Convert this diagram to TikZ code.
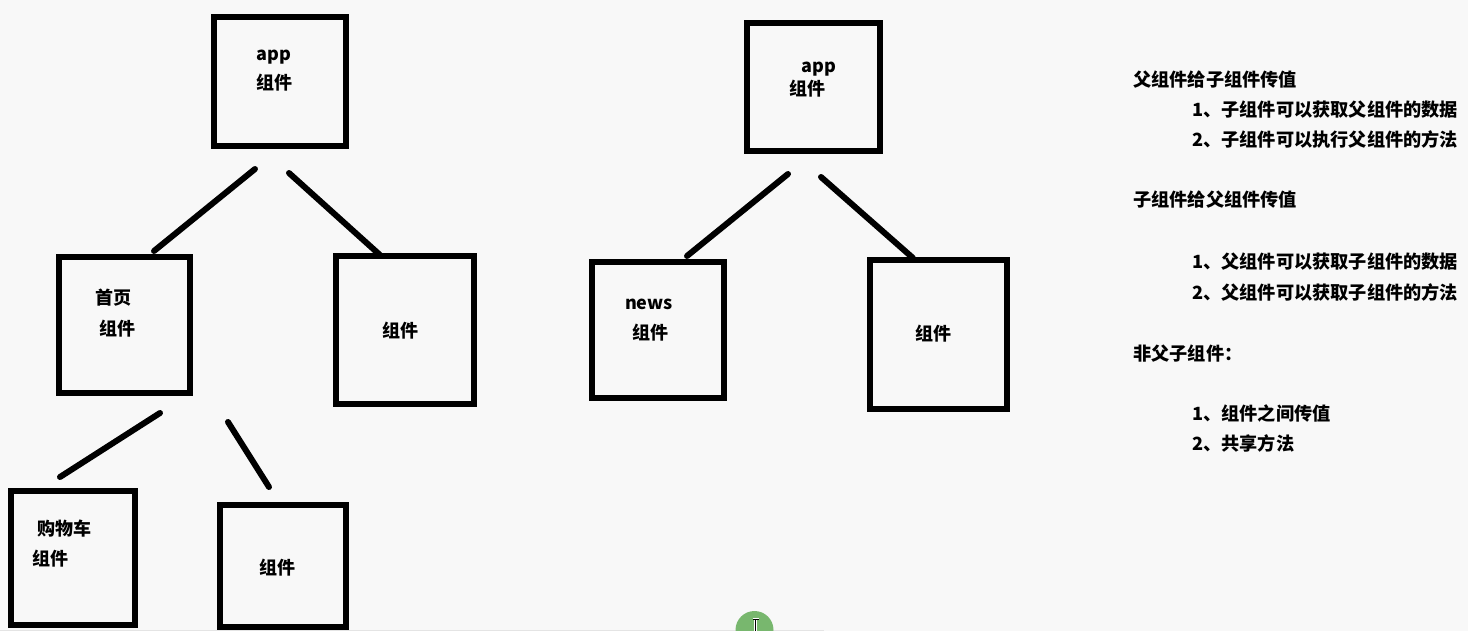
\documentclass[tikz,border=0pt]{standalone}
\usepackage{fontspec}
\newfontfamily\cjk{Noto Sans CJK SC}
\definecolor{paper}{HTML}{F8F8F8}
\definecolor{rule}{HTML}{E4E4E4}
\definecolor{dot}{HTML}{78B76E}
\begin{document}
\begin{tikzpicture}[x=1pt,y=-1pt,
  comp/.style={draw=black,line width=5.5pt,inner sep=0pt,minimum width=#1},
  label/.style={font=\cjk\bfseries\fontsize{18}{18}\selectfont,inner sep=0pt,anchor=base},
  note/.style={font=\cjk\bfseries\fontsize{18.2}{18}\selectfont,inner sep=0pt,anchor=base west},
  link/.style={line width=6pt,line cap=round}]
% canvas
\fill[paper] (0,0) rectangle (1468,631);
\useasboundingbox (0,0) rectangle (1468,631);
\draw[rule,line width=1pt] (0,630.5) -- (824,630.5);

% left tree: boxes
\node[comp=132pt,minimum height=129pt] (appL) at (280,81.5) {};
\node[comp=131pt,minimum height=136pt] (home) at (124.5,325) {};
\node[comp=138pt,minimum height=148pt] (compC) at (405,330) {};
\node[comp=124pt,minimum height=134pt] (cart) at (73,558) {};
\node[comp=126pt,minimum height=122pt] (compE) at (283,566) {};

% right tree: boxes
\node[comp=133pt,minimum height=128pt] (appR) at (813.5,87) {};
\node[comp=132pt,minimum height=136pt] (news) at (658,330) {};
\node[comp=137pt,minimum height=149pt] (compH) at (938.5,334.5) {};

% box labels
\node[label] (tAppL) at (274,61) {app};
\node[label] (tAppL2) at (274,90) {组件};
\node[label] (tHome) at (113,305) {首页};
\node[label] (tHome2) at (117,335) {组件};
\node[label] (tC) at (400,337) {组件};
\node[label] (tCart) at (64,535) {购物车};
\node[label] (tCart2) at (50,565) {组件};
\node[label] (tE) at (277,574) {组件};
\node[label] (tAppR) at (819,73) {app};
\node[label] (tAppR2) at (807,96) {组件};
\node[label] (tNews) at (649,309) {news};
\node[label] (tNews2) at (650,339) {组件};
\node[label] (tH) at (933,340) {组件};

% connector ends (the strokes stop short of the boxes)
\coordinate (a1) at (255,169);  \coordinate (b1) at (154,251);
\coordinate (a2) at (289,173);  \coordinate (c2) at (380,255);
\coordinate (h1) at (160,413);  \coordinate (d1) at (60,477);
\coordinate (h2) at (228,422);  \coordinate (e2) at (269,487);
\coordinate (r1) at (788,174);  \coordinate (n1) at (687,256);
\coordinate (r2) at (821,177);  \coordinate (k2) at (913,258);
\draw[link] (a1) -- (b1);
\draw[link] (a2) -- (c2);
\draw[link] (h1) -- (d1);
\draw[link] (h2) -- (e2);
\draw[link] (r1) -- (n1);
\draw[link] (r2) -- (k2);

% notes on the right
\node[note] (s1) at (1133,87) {父组件给子组件传值};
\node[note] (s1a) at (1192,117) {1、子组件可以获取父组件的数据};
\node[note] (s1b) at (1192,147) {2、子组件可以执行父组件的方法};
\node[note] (s2) at (1133,207) {子组件给父组件传值};
\node[note] (s2a) at (1192,269) {1、父组件可以获取子组件的数据};
\node[note] (s2b) at (1192,299) {2、父组件可以获取子组件的方法};
\node[note] (s3) at (1133,360) {非父子组件：};
\node[note] (s3a) at (1192,420) {1、组件之间传值};
\node[note] (s3b) at (1192,450) {2、共享方法};

% pointer marker at the bottom edge
\begin{scope}
\clip (0,0) rectangle (1468,631);
\fill[dot] (754.5,630) circle[radius=19];
\draw[white,line width=2.2pt] (755.5,619) -- (755.5,632) (752.5,619) -- (758.5,619);
\draw[black,line width=1pt] (755.5,619) -- (755.5,632) (752.5,619) -- (758.5,619);
\end{scope}
\end{tikzpicture}
\end{document}
